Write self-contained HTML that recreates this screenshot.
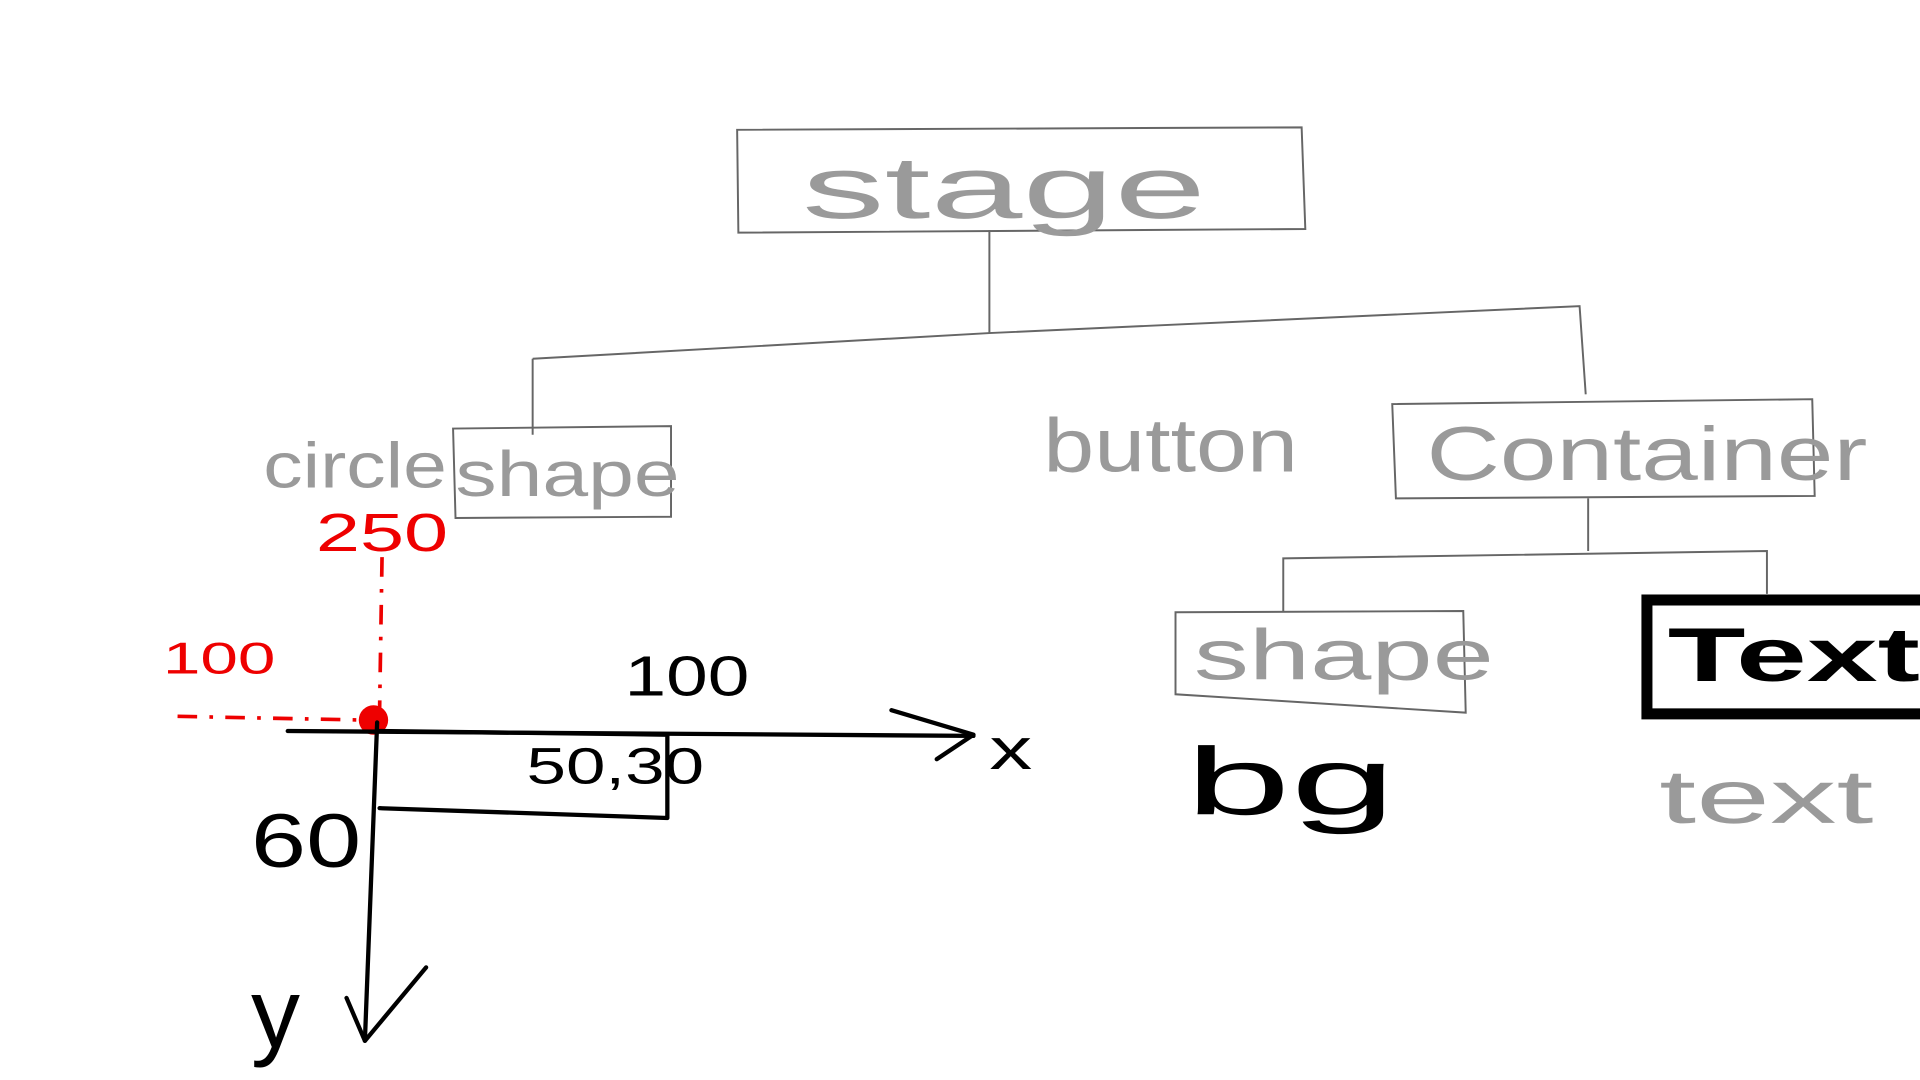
<!DOCTYPE html>
<html><head><meta charset="utf-8"><style>
html,body{margin:0;padding:0;background:#fff;width:1920px;height:1080px;overflow:hidden}
svg{display:block}
text{font-family:"Liberation Sans",sans-serif}
</style></head><body>
<svg width="1920" height="1080" viewBox="0 0 1568 882" preserveAspectRatio="none" xmlns="http://www.w3.org/2000/svg">
<rect width="1568" height="882" fill="#fff"/>
<g fill="none" stroke="#666" stroke-width="1.6">
<path d="M602,106 L1063,104 L1066,187 L603,190 Z"/>
<path d="M808,188 L808,272"/>
<path d="M435,293 L808,272 L1290,250 L1295,322"/>
<path d="M435,293 L435,355"/>
<path d="M370,350 L548,348 L548,422 L372,423 Z"/>
<path d="M1137,330 L1480,326 L1482,405 L1140,407 Z"/>
<path d="M1297,407 L1297,450"/>
<path d="M1048,500 L1048,456 L1443,450 L1443,485"/>
<path d="M960,500 L1195,499 L1197,582 L960,567 Z"/>
</g>
<g fill="#9a9a9a" font-weight="normal">
<text x="655" y="178" font-size="72" textLength="330" lengthAdjust="spacingAndGlyphs">stage</text>
<text x="215" y="398" font-size="52" textLength="150" lengthAdjust="spacingAndGlyphs">circle</text>
<text x="372" y="405" font-size="52" textLength="183" lengthAdjust="spacingAndGlyphs">shape</text>
<text x="852" y="385" font-size="62" textLength="208" lengthAdjust="spacingAndGlyphs">button</text>
<text x="1165" y="392" font-size="62" textLength="360" lengthAdjust="spacingAndGlyphs">Container</text>
<text x="975" y="555" font-size="58" textLength="245" lengthAdjust="spacingAndGlyphs">shape</text>
<text x="1355" y="672" font-size="62" textLength="175" lengthAdjust="spacingAndGlyphs">text</text>
</g>
<rect x="1345" y="490" width="230" height="93" fill="none" stroke="#000" stroke-width="9"/>
<text x="1362" y="556" font-size="62" font-weight="bold" fill="#000" textLength="206" lengthAdjust="spacingAndGlyphs">Text</text>
<text x="968" y="665" font-size="78" fill="#000" textLength="172" lengthAdjust="spacingAndGlyphs">bg</text>
<g fill="none" stroke="#e00" stroke-width="3">
<path d="M312,455 L310,580" stroke-dasharray="16,10,3,10"/>
<path d="M145,585 L295,588" stroke-dasharray="16,10,3,10"/>
</g>
<circle cx="305" cy="588" r="12" fill="#e00"/>
<g fill="#e00">
<text x="258" y="450" font-size="44" textLength="108" lengthAdjust="spacingAndGlyphs">250</text>
<text x="133" y="550" font-size="36" textLength="92" lengthAdjust="spacingAndGlyphs">100</text>
</g>
<g fill="none" stroke="#000" stroke-width="3.5" stroke-linecap="round" stroke-linejoin="round">
<path d="M235,597 L795,601"/>
<path d="M728,580 L795,600 L765,620"/>
<path d="M308,590 L298,850"/>
<path d="M283,815 L298,850 L348,790"/>
<path d="M310,597 L545,600 L545,668 L310,660"/>
</g>
<g fill="#000">
<text x="808" y="628" font-size="48" textLength="35" lengthAdjust="spacingAndGlyphs">x</text>
<text x="205" y="855" font-size="80" textLength="40" lengthAdjust="spacingAndGlyphs">y</text>
<text x="430" y="640" font-size="42" textLength="145" lengthAdjust="spacingAndGlyphs">50,30</text>
<text x="510" y="568" font-size="46" textLength="102" lengthAdjust="spacingAndGlyphs">100</text>
<text x="205" y="708" font-size="62" textLength="90" lengthAdjust="spacingAndGlyphs">60</text>
</g>
</svg>
</body></html>
